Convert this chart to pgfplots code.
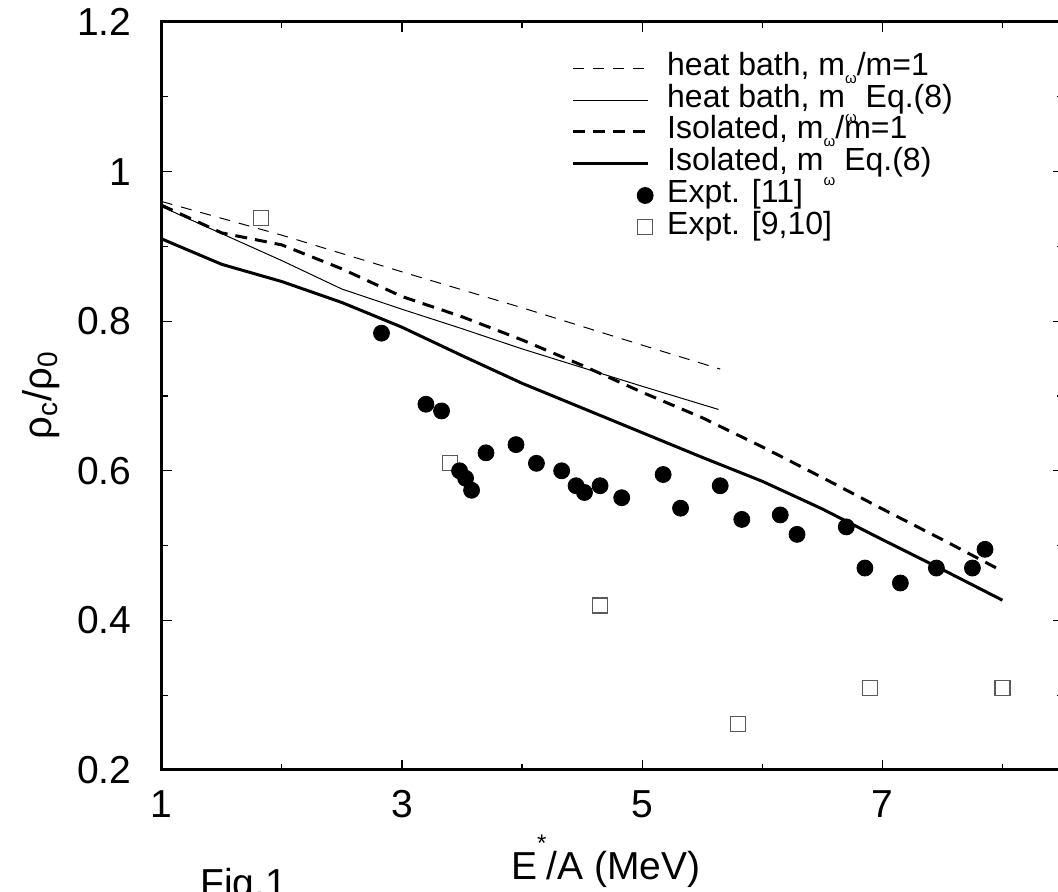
\documentclass[border=0pt]{standalone}
\usepackage{pgfplots}
\pgfplotsset{compat=1.18}
\usepackage{fontspec}
\setmainfont{Liberation Sans}
\newcommand{\oma}{\raisebox{-4pt}{\fontsize{7.5}{7.5}\selectfont ω}}
\newcommand{\omb}{\raisebox{-7.5pt}{\fontsize{7.5}{7.5}\selectfont ω}}
\pgfplotsset{markleg/.style={legend image code/.code={\path[draw=none,fill=none] (0pt,0pt) -- (37.5pt,0pt); \draw[##1] plot coordinates {(36pt,0pt)};}}}
\begin{document}
\begin{tikzpicture}
\begin{axis}[
  name=ax,
  scale only axis,
  width=450.4pt, height=374pt,
  xmin=1, xmax=8.5, ymin=0.2, ymax=1.2,
  xtick={1,3,5,7}, minor xtick={2,4,6,8},
  xticklabels={1,3,5,7},
  ytick={0.2,0.4,0.6,0.8,1.0,1.2}, minor ytick={0.3,0.5,0.7,0.9,1.1},
  yticklabels={0.2,0.4,0.6,0.8,1,1.2},
  tick align=inside,
  major tick length=5pt, minor tick length=3pt,
  every tick/.style={black, line width=0.6pt},
  axis line style={line width=1.5pt},
  tick label style={font=\fontsize{19.5}{20}\selectfont, inner sep=0pt},
  xticklabel shift=10pt, yticklabel shift=15pt,
  xlabel={E\raisebox{14pt}{\fontsize{12}{12}\selectfont *}/A (MeV)},
  xlabel style={at={(axis description cs:0.493,0)}, anchor=north, inner sep=0pt, yshift=-32.5pt, font=\fontsize{19.5}{20}\selectfont},
  ylabel={ρ\textsubscript{c}/ρ\textsubscript{0}},
  ylabel style={at={(axis description cs:-0.1129,0.501)}, anchor=south, inner sep=0pt, font=\fontsize{20}{20}\selectfont},
  legend cell align=left,
  legend image code/.code={\draw[#1] (0pt,0pt) -- (37.5pt,0pt);},
  legend style={at={(axis cs:4.41,1.156)}, anchor=north west, draw=none, fill=none, inner sep=0pt,
    column sep=7pt, row sep=2.9pt, font=\fontsize{16}{16}\selectfont,
    nodes={inner sep=0pt, text height=10pt, text depth=3pt}},
]
% heat bath, m_omega/m=1
\addplot[black, line width=0.5pt, dash pattern=on 5.5pt off 4.5pt, mark=none] coordinates {
(1,0.960) (2,0.915) (3,0.866) (4,0.818) (5,0.768) (5.65,0.736)};
\addlegendentry{heat bath, m\oma/m=1}
% heat bath, m_omega Eq.(8)
\addplot[black, line width=0.5pt, mark=none] coordinates {
(1,0.953) (1.5,0.917) (2,0.881) (2.5,0.843) (3,0.816) (3.5,0.790) (4,0.763) (4.5,0.738) (5,0.713) (5.636,0.682)};
\addlegendentry{heat bath, m\omb{} Eq.(8)}
% Isolated, m_omega/m=1
\addplot[black, line width=1.5pt, dash pattern=on 6pt off 4pt, mark=none] coordinates {
(1,0.955) (1.5,0.918) (2,0.902) (2.5,0.870) (3,0.833) (3.5,0.806) (4,0.775) (4.5,0.741) (5,0.705) (5.5,0.671) (6,0.632) (6.5,0.591) (7,0.549) (7.5,0.508) (7.95,0.470)};
\addlegendentry{Isolated, m\oma/m=1}
% Isolated, m_omega Eq.(8)
\addplot[black, line width=1.5pt, mark=none] coordinates {
(1,0.910) (1.5,0.876) (2,0.853) (2.5,0.825) (3,0.792) (3.5,0.754) (4,0.717) (4.5,0.684) (5,0.651) (5.5,0.618) (6,0.586) (6.5,0.549) (7,0.508) (7.5,0.468) (8,0.427)};
\addlegendentry{Isolated, m\omb{} Eq.(8)}
% Expt [9,10] squares (drawn first)
\addplot[forget plot, only marks, mark=square, mark size=3.75pt, draw=black!65, line width=0.6pt] coordinates {
(1.83,0.938) (3.40,0.610) (4.65,0.420) (5.80,0.261) (6.90,0.310) (8.00,0.310)};
% Expt [11] circles
\addplot[markleg, only marks, mark=*, mark size=4pt, black, fill=black] coordinates {
(2.83,0.784) (3.20,0.689) (3.33,0.680) (3.48,0.600) (3.53,0.590) (3.58,0.574) (3.70,0.624) (3.95,0.635)
(4.12,0.610) (4.33,0.600) (4.45,0.580) (4.52,0.571) (4.65,0.580) (4.83,0.564) (5.175,0.595) (5.32,0.550)
(5.65,0.580) (5.83,0.535) (6.15,0.541) (6.29,0.515) (6.70,0.525) (6.855,0.470) (7.15,0.450) (7.45,0.470)
(7.75,0.470) (7.855,0.495)};
\addlegendentry{Expt. [11]}
\addlegendimage{markleg, only marks, mark=square, mark size=3.75pt, draw=black!65, line width=0.6pt}
\addlegendentry{Expt. [9,10]}
\end{axis}
\node[anchor=north west, inner sep=0pt, font=\fontsize{19.5}{20}\selectfont] at ([xshift=19.2pt, yshift=-49pt]ax.south west) {Fig.1};
\pgfresetboundingbox
\path[use as bounding box] ([xshift=-80.85pt, yshift=-61pt]ax.south west) rectangle ([xshift=448.15pt, yshift=11pt]ax.north west);
\end{tikzpicture}
\end{document}
